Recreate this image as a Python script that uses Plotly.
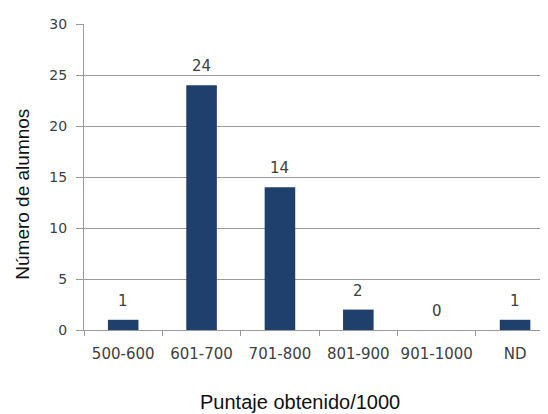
import plotly.graph_objects as go

categories = ["500-600", "601-700", "701-800", "801-900", "901-1000", "ND"]
values = [1, 24, 14, 2, 0, 1]
y_ticks = [0, 5, 10, 15, 20, 25, 30]
x_title = "Puntaje obtenido/1000"
y_title = "Número de alumnos"

fig = go.Figure()
fig.add_trace(go.Bar(
    x=categories, y=values, width=0.39,
    marker=dict(color="#1f3f6d", line=dict(width=0)),
    hoverinfo="skip",
))

for c, v in zip(categories, values):
    fig.add_annotation(x=c, y=v, text=str(v), showarrow=False, yanchor="middle",
                       yshift=19, font=dict(family="DejaVu Sans", size=15, color="#404040"))

title_font = dict(family="Liberation Sans Narrow, Liberation Sans", size=19, color="#111")
fig.add_annotation(text=x_title, xref="paper", yref="paper", x=0.466, y=-0.236,
                   xanchor="center", yanchor="middle", showarrow=False,
                   font=dict(family="Liberation Sans", size=20, color="#111"))
fig.add_annotation(text=y_title, xref="paper", yref="paper", x=-0.133, y=0.443,
                   xanchor="center", yanchor="middle", textangle=-90, showarrow=False,
                   font=title_font)

fig.update_layout(
    width=548, height=414,
    margin=dict(l=76, r=8, t=13, b=92),
    paper_bgcolor="white", plot_bgcolor="white",
    showlegend=False,
    xaxis=dict(
        type="category", range=[-0.5, 5.42],
        showline=True, linecolor="#9a9a9a", linewidth=1,
        ticks="outside", tickson="boundaries", ticklen=5, tickcolor="#9a9a9a",
        ticklabelstandoff=10, tickangle=0,
        tickfont=dict(family="DejaVu Sans", size=15, color="#404040"),
        showgrid=False,
    ),
    yaxis=dict(
        range=[0, 30], tickvals=y_ticks,
        showline=True, linecolor="#9a9a9a", linewidth=1,
        ticks="outside", ticklen=7, tickcolor="#9a9a9a",
        ticklabelstandoff=6,
        showgrid=True, gridcolor="#9a9a9a", gridwidth=1,
        zeroline=False,
        tickfont=dict(family="DejaVu Sans", size=14, color="#404040"),
    ),
)

fig.write_html("out.html")
